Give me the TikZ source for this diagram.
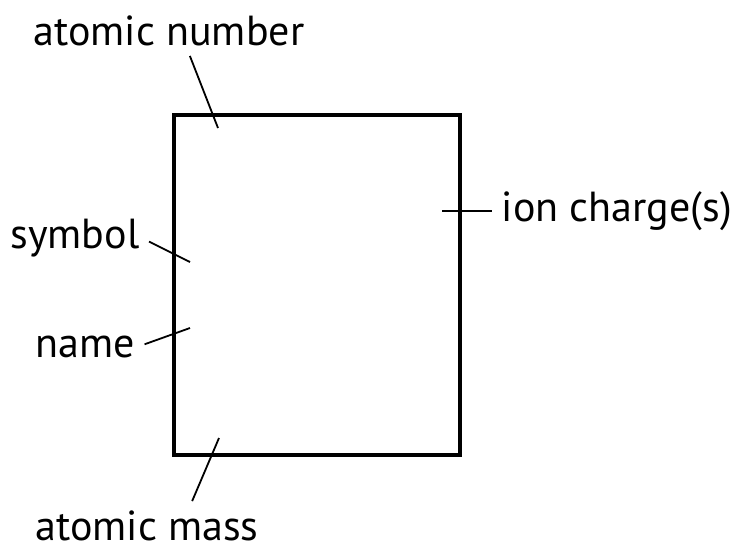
\documentclass[tikz,border=0pt]{standalone}
\usepackage{fontspec}
\setmainfont{PT Sans}
\usepackage{tikz}
\usetikzlibrary{positioning,calc}
\tikzset{
  elembox/.style={rectangle, draw=black, line width=2pt,
    minimum width=143pt, minimum height=170pt, inner sep=0pt},
  partlabel/.style={font=\fontsize{21}{25}\selectfont, inner sep=1pt},
  leader/.style={line width=0.9pt, shorten <=4pt},
}
\begin{document}
\begin{tikzpicture}[x=0.5pt, y=-0.5pt]
  \useasboundingbox (0,0) rectangle (740,552);
  % element tile
  \node[elembox] (tile) at (317,285) {};

  % labels
  \node[partlabel] (anum) at (169,31) {atomic number};
  \node[partlabel] (sym) at (75,238) {symbol};
  \node[partlabel] (nm) at (85,347) {name};
  \node[partlabel] (ion) at (617,211) {ion charge(s)};
  \node[partlabel] (amass) at (147,526) {atomic mass};

  % leader tips inside the tile
  \coordinate (anum-tip) at (218,128);
  \coordinate (sym-tip) at (190,262);
  \coordinate (nm-tip) at (190,328);
  \coordinate (ion-tip) at (442,211);
  \coordinate (amass-tip) at (219,438);

  \draw[leader] (anum.south -| 187,0) -- (anum-tip);
  \draw[leader] (sym.east) -- (sym-tip);
  \draw[leader] (nm.east) -- (nm-tip);
  \draw[leader] (ion.west) -- (ion-tip);
  \draw[leader] (amass.north -| 189,0) -- (amass-tip);
\end{tikzpicture}
\end{document}
